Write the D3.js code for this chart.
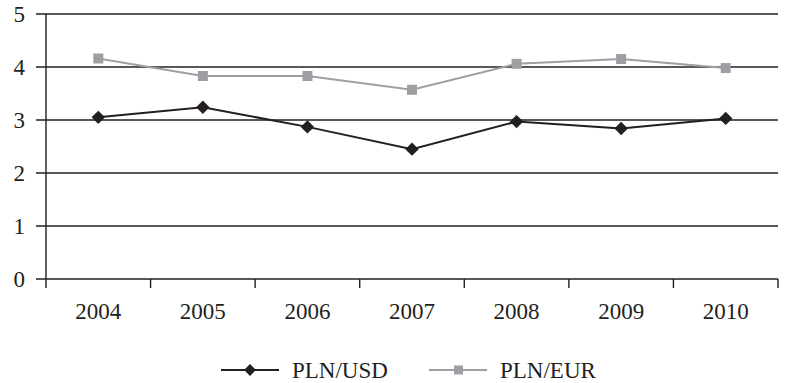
<!DOCTYPE html>
<html>
<head>
<meta charset="utf-8">
<script src="https://cdn.jsdelivr.net/npm/d3@7"></script>
<style>
  html, body { margin: 0; padding: 0; background: #fff; }
  svg { display: block; font-family: "Liberation Serif", "Times New Roman", serif; }
</style>
</head>
<body>
<svg id="chart" width="794" height="383"></svg>
<script>
// Exchange rates, yearly
const years = ["2004", "2005", "2006", "2007", "2008", "2009", "2010"];
const plnUsd = [3.05, 3.24, 2.87, 2.45, 2.97, 2.84, 3.03];
const plnEur = [4.16, 3.83, 3.83, 3.57, 4.06, 4.15, 3.98];
const yTicks = [0, 1, 2, 3, 4, 5];
const seriesNames = ["PLN/USD", "PLN/EUR"];

const svg = d3.select("#chart");
const margin = { left: 46, right: 16, top: 14, bottom: 104 };
const W = 794, H = 383;
const plotW = W - margin.left - margin.right;
const plotH = H - margin.top - margin.bottom;
const ink = "#231f20";
const grey = "#9d9fa2";

const x = d3.scaleBand().domain(years).range([margin.left, margin.left + plotW]);
const y = d3.scaleLinear().domain([0, 5]).range([margin.top + plotH, margin.top]);

// horizontal gridlines with left ticks
svg.append("g").selectAll("line").data(yTicks).join("line")
  .attr("x1", margin.left - 10).attr("x2", margin.left + plotW)
  .attr("y1", d => y(d)).attr("y2", d => y(d))
  .attr("stroke", ink).attr("stroke-width", 1.4);

// y axis line
svg.append("line")
  .attr("x1", margin.left).attr("x2", margin.left)
  .attr("y1", y(5)).attr("y2", y(0) + 9)
  .attr("stroke", ink).attr("stroke-width", 1.4);

// y tick labels
svg.append("g").selectAll("text").data(yTicks).join("text")
  .attr("x", margin.left - 21).attr("y", d => y(d))
  .attr("dy", "0.34em").attr("text-anchor", "end")
  .attr("font-size", 23).attr("fill", ink)
  .text(d => d);

// x axis category boundaries
const bounds = years.map(d => x(d)).concat([x(years[years.length - 1]) + x.bandwidth()]);
svg.append("g").selectAll("line").data(bounds.slice(1)).join("line")
  .attr("x1", d => d).attr("x2", d => d)
  .attr("y1", y(0)).attr("y2", y(0) + 9)
  .attr("stroke", ink).attr("stroke-width", 1.4);

// x labels
svg.append("g").selectAll("text").data(years).join("text")
  .attr("x", d => x(d) + x.bandwidth() / 2).attr("y", y(0) + 40)
  .attr("text-anchor", "middle")
  .attr("font-size", 23).attr("fill", ink)
  .text(d => d);

const cx = d => x(d) + x.bandwidth() / 2;
const line = d3.line().x((v, i) => cx(years[i])).y(v => y(v));

// PLN/EUR series
svg.append("path").datum(plnEur)
  .attr("d", line).attr("fill", "none")
  .attr("stroke", grey).attr("stroke-width", 2);
svg.append("g").selectAll("rect").data(plnEur).join("rect")
  .attr("x", (v, i) => cx(years[i]) - 5).attr("y", v => y(v) - 5)
  .attr("width", 10).attr("height", 10).attr("fill", grey);

// PLN/USD series
svg.append("path").datum(plnUsd)
  .attr("d", line).attr("fill", "none")
  .attr("stroke", ink).attr("stroke-width", 2);
svg.append("g").selectAll("path").data(plnUsd).join("path")
  .attr("transform", (v, i) => `translate(${cx(years[i])},${y(v)}) rotate(45)`)
  .attr("d", d3.symbol().type(d3.symbolSquare).size(90))
  .attr("fill", ink);

// legend
const legend = svg.append("g").attr("transform", "translate(0,370)");
const items = [
  { name: seriesNames[0], x0: 221, color: ink, marker: "diamond" },
  { name: seriesNames[1], x0: 429, color: grey, marker: "square" }
];
items.forEach(it => {
  legend.append("line").attr("x1", it.x0).attr("x2", it.x0 + 58)
    .attr("y1", 0).attr("y2", 0).attr("stroke", it.color).attr("stroke-width", 2);
  if (it.marker === "diamond") {
    legend.append("path")
      .attr("transform", `translate(${it.x0 + 29},0) rotate(45)`)
      .attr("d", d3.symbol().type(d3.symbolSquare).size(70))
      .attr("fill", it.color);
  } else {
    legend.append("rect").attr("x", it.x0 + 25).attr("y", -4.5)
      .attr("width", 9).attr("height", 9).attr("fill", it.color);
  }
  legend.append("text").attr("x", it.x0 + 71).attr("y", 0).attr("dy", "0.34em")
    .attr("font-size", 23).attr("fill", ink).text(it.name);
});
</script>
</body>
</html>
